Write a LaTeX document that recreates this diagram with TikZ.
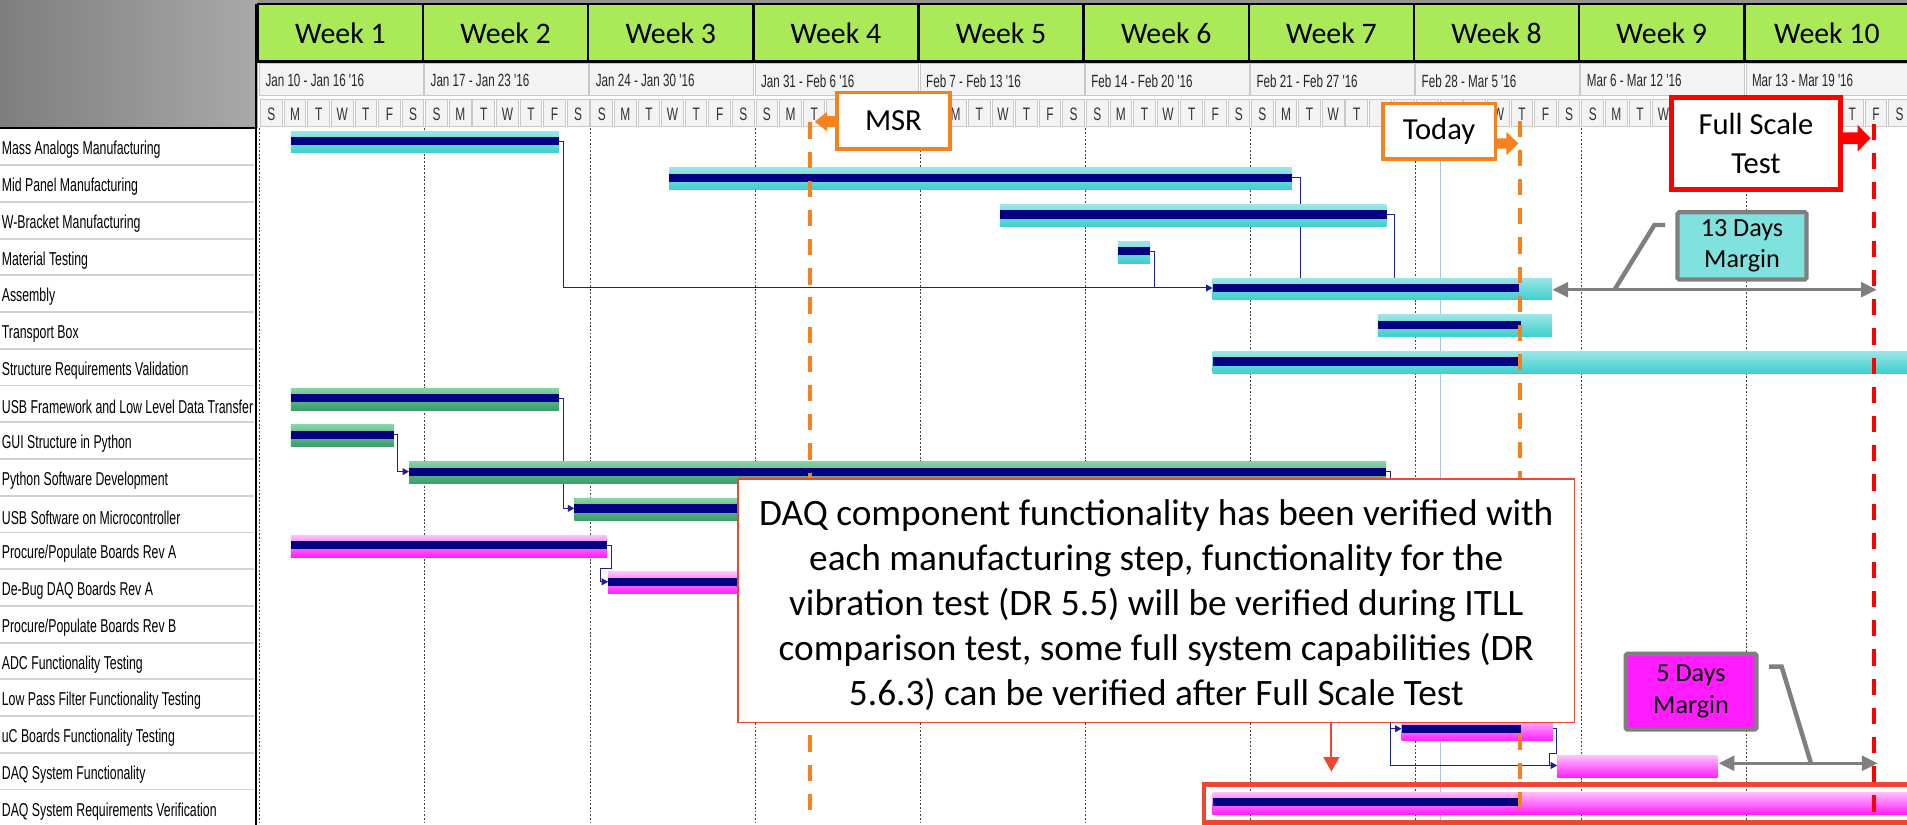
\documentclass[tikz,border=0pt]{standalone}
\usepackage{fontspec}
\setmainfont{Carlito}
\newfontfamily\narrowfont[FakeStretch=0.66]{Liberation Sans}
\usetikzlibrary{arrows.meta}

\definecolor{weekgreen}{HTML}{AAEA58}
\definecolor{navybar}{HTML}{000080}
\definecolor{cyanhi}{HTML}{9AE6E6}
\definecolor{cyanlo}{HTML}{3ECECE}
\definecolor{greenhi}{HTML}{84D4A4}
\definecolor{greenlo}{HTML}{3A9C6C}
\definecolor{pinkhi}{HTML}{FFC0FF}
\definecolor{pinklo}{HTML}{FF1EFF}
\definecolor{linknavy}{HTML}{1E1E96}
\definecolor{msorange}{HTML}{F5821F}
\definecolor{callred}{HTML}{EE4630}
\definecolor{fullred}{HTML}{FF0000}
\definecolor{leadgray}{HTML}{7F7F7F}
\definecolor{margincyan}{HTML}{80E2DE}
\definecolor{marginpink}{HTML}{FF1CFF}
\definecolor{todayblue}{HTML}{A8C4E8}
\definecolor{bgdark}{HTML}{7E7E7E}
\definecolor{bglight}{HTML}{A9A9A9}
\definecolor{cellfill}{HTML}{F3F3F3}
\definecolor{celledge}{HTML}{C8C8C8}
\definecolor{rowline}{HTML}{D2D2D2}

\tikzset{
  weeklabel/.style={font=\fontsize{14.7}{16}\selectfont, inner sep=0pt},
  datelabel/.style={anchor=west, font=\narrowfont\fontsize{8.7}{9}\selectfont, inner sep=0pt, text=black!85},
  daylabel/.style={font=\narrowfont\fontsize{8.9}{9}\selectfont, inner sep=0pt, text=black!80},
  rowlabel/.style={anchor=west, font=\narrowfont\fontsize{9.2}{10}\selectfont, inner sep=0pt},
  cellbox/.style={fill=cellfill, draw=celledge, line width=0.5pt},
  rowsep/.style={draw=rowline, line width=0.9pt},
  weekgrid/.style={draw=black!75, line width=0.45pt, dash pattern=on 0.9pt off 0.9pt},
  cyanbar/.style={top color=cyanhi, bottom color=cyanlo},
  greenbar/.style={top color=greenhi, bottom color=greenlo},
  pinkbar/.style={top color=pinkhi, bottom color=pinklo},
  linkline/.style={draw=linknavy, line width=0.5pt},
  linkarrow/.style={linkline, -{Triangle[length=3.2pt,width=3.4pt]}},
  orangedash/.style={draw=msorange, line width=2pt, dash pattern=on 8pt off 6.4pt},
  reddash/.style={draw=fullred, line width=1.7pt, dash pattern=on 8pt off 6.4pt},
  markbox/.style={draw=#1, fill=white, inner sep=0pt, align=center,
    font=\fontsize{15.1}{18.9}\selectfont},
  marginbox/.style={draw=leadgray, line width=2.1pt, rounded corners=0.8pt, inner sep=0pt,
    align=center, font=\fontsize{12.9}{15.6}\selectfont},
  leader/.style={draw=leadgray, line width=2.2pt},
  marginarrow/.style={draw=leadgray, line width=1.3pt,
    {Triangle[length=7.7pt,width=7.4pt]}-{Triangle[length=7.7pt,width=7.4pt]}},
  notebox/.style={draw=callred, line width=0.85pt, fill=white, inner sep=0pt,
    minimum width=412.5pt, minimum height=120pt},
  notetext/.style={inner sep=0pt, align=center, font=\fontsize{18.4}{22.1}\selectfont},
}

\begin{document}
\begin{tikzpicture}[x=0.6pt, y=-0.6pt]
\useasboundingbox (0,0) rectangle (1568,678);
\clip (0,0) rectangle (1568,678);

% ---------- background ----------
\fill[white] (0,0) rectangle (1568,678);
\shade[left color=bgdark, right color=bglight] (0,0) rectangle (212,105);
\fill[black!42] (212,0) rectangle (1568,4);

% ---------- timescale: weeks, dates, days ----------
\fill[weekgreen] (211,3.5) rectangle (1568,50.5);
\draw[line width=1.2pt] (211,3.5) -- (1568,3.5) (211,50.5) -- (1568,50.5);
\foreach \k/\d in {1/{Jan 10 - Jan 16 '16}, 2/{Jan 17 - Jan 23 '16}, 3/{Jan 24 - Jan 30 '16},
                   4/{Jan 31 - Feb 6 '16}, 5/{Feb 7 - Feb 13 '16}, 6/{Feb 14 - Feb 20 '16},
                   7/{Feb 21 - Feb 27 '16}, 8/{Feb 28 - Mar 5 '16}, 9/{Mar 6 - Mar 12 '16},
                   10/{Mar 13 - Mar 19 '16}} {
  \pgfmathsetmacro\xa{213.5+135.8*(\k-1)}
  \draw[line width=1.2pt] (\xa-1.5,3.5) -- (\xa-1.5,50.5);
  \node[weeklabel] (week\k) at (\xa+66.4,27.4) {Week \k};
  \draw[cellbox] (\xa,52.2) rectangle (\xa+134.6,78.4);
  \node[datelabel] (date\k) at (\xa+4.5,66.5) {\d};
  \foreach \j/\l in {0/S,1/M,2/T,3/W,4/T,5/F,6/S} {
    \pgfmathsetmacro\xd{\xa+19.4*\j}
    \draw[cellbox] (\xd+0.8,81.7) rectangle (\xd+18.6,104.2);
    % letters under the milestone flags are left out
    \pgfmathtruncatemacro\hidden{(\xd+9.7>686)*(\xd+9.7<783)+(\xd+9.7>1134)*(\xd+9.7<1231)+(\xd+9.7>1372)*(\xd+9.7<1516)}
    \ifnum\hidden=0
      \node[daylabel] (day\k-\j) at (\xd+9.7,93.6) {\l};
    \fi
  }
}

% ---------- task name column ----------
\foreach \r/\t in {0/{Mass Analogs Manufacturing}, 1/{Mid Panel Manufacturing},
    2/{W-Bracket Manufacturing}, 3/{Material Testing}, 4/{Assembly}, 5/{Transport Box},
    6/{Structure Requirements Validation}, 7/{USB Framework and Low Level Data Transfer},
    8/{GUI Structure in Python}, 9/{Python Software Development},
    10/{USB Software on Microcontroller}, 11/{Procure/Populate Boards Rev A},
    12/{De-Bug DAQ Boards Rev A}, 13/{Procure/Populate Boards Rev B},
    14/{ADC Functionality Testing}, 15/{Low Pass Filter Functionality Testing},
    16/{uC Boards Functionality Testing}, 17/{DAQ System Functionality},
    18/{DAQ System Requirements Verification}} {
  \pgfmathsetmacro\B{107.8+30.2*\r}
  \node[rowlabel] (task\r) at (1.2,\B+15.6) {\t};
  \draw[rowsep] (0,\B+28) -- (208.5,\B+28);
}
\draw[line width=0.9pt] (0,105) -- (211,105);
\draw[line width=1.3pt] (210.5,3.5) -- (210.5,678);

% ---------- chart grid ----------
\foreach \k in {1,...,10} {
  \pgfmathsetmacro\xa{213.5+135.8*(\k-1)}
  \draw[weekgrid] (\xa,105.5) -- (\xa,678);
}
\draw[todayblue, line width=0.6pt] (1184.5,105) -- (1184.5,678);

% ---------- dependency links ----------
\coordinate (massEnd)   at (459.6,116);
\coordinate (midEnd)    at (1062.3,146.2);
\coordinate (wbEnd)     at (1140.1,176.4);
\coordinate (matEnd)    at (945.6,206.6);
\coordinate (asmStart)  at (997,236.8);
\coordinate (usbfEnd)   at (459.6,327.4);
\coordinate (guiEnd)    at (323.9,357.6);
\coordinate (pyStart)   at (336.3,387.8);
\coordinate (pyEnd)     at (1139.7,387.8);
\coordinate (usbsStart) at (472.2,418);
\coordinate (procEnd)   at (499,448.2);
\coordinate (dbgStart)  at (500.1,478.4);
\coordinate (ucStart)   at (1152.4,599.2);
\coordinate (ucEnd)     at (1276.5,599.2);
\coordinate (sysStart)  at (1280.3,629.4);

\draw[linkarrow] (massEnd) -- (463.2,116) |- (asmStart);
\draw[linkline]  (midEnd) -| (1069,228.6);
\draw[linkline]  (wbEnd) -| (1146.5,228.6);
\draw[linkline]  (matEnd) -| (949.3,236.8);
\draw[linkarrow] (usbfEnd) -- (463.2,327.4) |- (usbsStart);
\draw[linkarrow] (guiEnd) -- (327.2,357.6) |- (pyStart);
\draw[linkarrow] (procEnd) -- (502.4,448.2) -- (502.4,467.3) -- (493.7,467.3) |- (dbgStart);
\draw[linkarrow] (pyEnd) -- (1143.5,387.8) |- (sysStart);
\draw[linkarrow] (1143.5,599.2) -- (ucStart);
\draw[linkline]  (ucEnd) -- (1279.4,599.2) -- (1279.4,619.4) -- (1274.1,619.4) -- (1274.1,629.4);

% ---------- task bars ----------
\foreach \r/\a/\b/\s in {0/239.2/459.6/cyanbar, 1/550.2/1062.3/cyanbar, 2/822.2/1140.1/cyanbar,
    3/919.2/945.6/cyanbar, 4/997/1276/cyanbar, 5/1133/1276/cyanbar, 6/997/1600/cyanbar,
    7/239.2/459.6/greenbar, 8/239.2/323.9/greenbar, 9/336.3/1139.7/greenbar,
    10/472.2/900/greenbar, 11/239.2/499/pinkbar, 12/500.1/900/pinkbar,
    16/1152.4/1276.5/pinkbar, 17/1280.3/1412.3/pinkbar, 18/997/1600/pinkbar} {
  \pgfmathsetmacro\B{107.8+30.2*\r}
  \fill[\s] (\a,\B) rectangle (\b,\B+18);
}
% progress stripes
\foreach \r/\a/\n in {0/239.2/459.6, 1/550.2/1062.3, 2/822.2/1140.1, 3/919.2/945.6,
    4/997/1249, 5/1133/1251, 6/997/1250, 7/239.2/459.6, 8/239.2/323.9, 9/336.3/1139.7,
    10/472.2/900, 11/239.2/499, 12/500.1/900, 16/1152.4/1251, 18/997/1250} {
  \pgfmathsetmacro\B{107.8+30.2*\r}
  \fill[navybar] (\a,\B+4.8) rectangle (\n,\B+11.6);
}

% ---------- milestone lines ----------
\draw[orangedash] (666,100.6) -- (666,668);
\draw[orangedash] (1250,99.2) -- (1250,668);
\draw[reddash] (1541,102) -- (1541,668);

% ---------- comment box ----------
\node[notebox] (note) at (950.75,494) {};
\node[notetext] (notetext) at (950.75,497.5) {DAQ component functionality has been verified with\\
  each manufacturing step, functionality for the\\
  vibration test (DR 5.5) will be verified during ITLL\\
  comparison test, some full system capabilities (DR\\
  5.6.3) can be verified after Full Scale Test};
\coordinate (noteTip) at (1094.7,634.5);
\draw[callred, line width=0.9pt, -{Triangle[length=7.2pt,width=7.8pt]}] (note.south -| noteTip) -- (noteTip);
\draw[callred, line width=2.4pt] (990,645) rectangle (1620,676.3);

% ---------- milestone flags ----------
\node[markbox=msorange, line width=1.8pt, minimum width=55.5pt, minimum height=27.8pt] (msr) at (734.6,99.3) {MSR};
\fill[msorange] (689,95.5) -- (680,95.5) -- (680,92) -- (670,100) -- (680,108) -- (680,104.5) -- (689,104.5) -- cycle;

\node[markbox=msorange, line width=1.8pt, minimum width=55.6pt, minimum height=27.3pt] (today) at (1183.2,107.9) {Today};
\fill[msorange] (1230,113.8) -- (1238.5,113.8) -- (1238.5,108.4) -- (1248.5,118) -- (1238.5,127.6) -- (1238.5,122.2) -- (1230,122.2) -- cycle;

\node[markbox=fullred, line width=2.4pt, minimum width=83.4pt, minimum height=45.3pt] (fst) at (1443.8,117.9) {Full Scale\\Test};
\fill[fullred] (1514,108.9) -- (1527.3,108.9) -- (1527.3,102.7) -- (1538,113.7) -- (1527.3,124.7) -- (1527.3,118.5) -- (1514,118.5) -- cycle;

% ---------- schedule margins ----------
\node[marginbox, fill=margincyan, minimum width=63.6pt, minimum height=33.2pt] (m13) at (1432.3,202.2) {13 Days\\Margin};
\draw[leader] (1369,185) -- (1360.3,185) -- (1327.5,238.2);
\coordinate (asmEnd) at (1276.5,238.2);
\coordinate (fstLineA) at (1543,238.2);
\draw[marginarrow] (asmEnd) -- (fstLineA);

\node[marginbox, fill=marginpink, minimum width=64.5pt, minimum height=37.4pt] (m5) at (1390.4,568.7) {5 Days\\Margin};
\draw[leader] (1454.6,548.1) -- (1464.9,548.1) -- (1489,627.6);
\coordinate (sysEnd) at (1413.2,627.6);
\coordinate (fstLineB) at (1543.7,627.6);
\draw[marginarrow] (sysEnd) -- (fstLineB);
\end{tikzpicture}
\end{document}
